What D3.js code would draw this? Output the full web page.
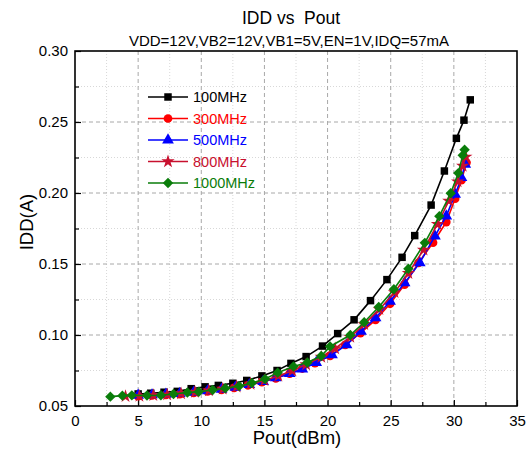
<!DOCTYPE html>
<html>
<head>
<meta charset="utf-8">
<script src="https://cdn.jsdelivr.net/npm/d3@7"></script>
<style>
  body { margin: 0; background: #fff; }
  svg { display: block; font-family: Arial, "Liberation Sans", sans-serif; }
</style>
</head>
<body>
<svg id="chart" width="527" height="450"></svg>
<script>
// ---- Data ----
const seriesNames = ["100MHz", "300MHz", "500MHz", "800MHz", "1000MHz"];
const seriesColors = ["#000000", "#ff0000", "#0000ff", "#c8102e", "#0a7d0a"];
const seriesShapes = ["square", "circle", "triangle", "star", "diamond"];

const x100 = [5.0, 6.0, 7.05, 8.1, 9.2, 10.3, 11.35, 12.5, 13.6, 14.8, 16.0, 17.1, 18.3, 19.6, 20.8, 22.1, 23.4, 24.7, 25.9, 26.9, 28.2, 29.25, 30.2, 30.8, 31.3];
const y100 = [0.0585, 0.059, 0.0597, 0.0603, 0.0622, 0.0635, 0.0645, 0.066, 0.068, 0.0712, 0.0750, 0.0800, 0.0848, 0.0922, 0.1010, 0.1107, 0.1242, 0.1390, 0.1547, 0.1700, 0.1915, 0.2155, 0.2385, 0.2513, 0.2656];

const x300 = [5.0, 6.1, 7.2, 8.3, 9.4, 10.5, 11.6, 12.6, 13.7, 14.8, 15.9, 17.0, 18.0, 19.0, 20.2, 21.4, 22.6, 23.8, 24.95, 26.1, 27.2, 28.35, 29.4, 30.1, 30.6, 31.0];
const y300 = [0.0570, 0.0574, 0.0578, 0.0584, 0.0593, 0.0603, 0.0614, 0.0628, 0.0646, 0.0668, 0.0695, 0.0728, 0.0764, 0.0802, 0.0853, 0.0931, 0.1013, 0.1107, 0.1220, 0.1355, 0.1508, 0.1650, 0.1795, 0.1960, 0.2090, 0.2214];

const x500 = [5.0, 6.1, 7.2, 8.3, 9.4, 10.5, 11.6, 12.7, 13.8, 14.9, 15.9, 17.0, 18.0, 19.1, 20.35, 21.5, 22.65, 23.8, 24.95, 26.1, 27.3, 28.5, 29.4, 30.1, 30.6, 30.9];
const y500 = [0.0575, 0.0578, 0.0582, 0.0588, 0.0596, 0.0606, 0.0617, 0.0632, 0.0650, 0.0672, 0.0698, 0.0728, 0.0759, 0.0806, 0.0860, 0.0931, 0.1025, 0.1120, 0.1237, 0.1367, 0.1508, 0.1696, 0.1837, 0.1990, 0.2108, 0.2202];

const x800 = [4.0, 5.1, 6.2, 7.3, 8.4, 9.5, 10.6, 11.7, 12.8, 13.9, 15.0, 16.1, 17.2, 18.3, 19.5, 20.6, 21.8, 22.9, 24.1, 25.3, 26.4, 27.6, 28.7, 29.6, 30.3, 30.7, 30.95];
const y800 = [0.0568, 0.0570, 0.0575, 0.0580, 0.0588, 0.0598, 0.0608, 0.0620, 0.0635, 0.0655, 0.0680, 0.0712, 0.0748, 0.0792, 0.0845, 0.0905, 0.0985, 0.1075, 0.1180, 0.1300, 0.1435, 0.1600, 0.1780, 0.1945, 0.2080, 0.2190, 0.2255];

const x1000 = [2.8, 3.75, 4.5, 5.7, 6.8, 7.8, 8.9, 9.8, 10.9, 11.9, 13.0, 14.0, 15.05, 16.05, 17.3, 18.4, 19.5, 20.2, 21.8, 22.9, 24.05, 25.25, 26.4, 27.7, 28.85, 29.75, 30.35, 30.7, 30.85];
const y1000 = [0.0566, 0.0573, 0.0575, 0.0574, 0.0576, 0.0585, 0.0595, 0.0600, 0.0613, 0.0625, 0.0640, 0.0662, 0.0690, 0.0735, 0.0778, 0.0806, 0.0852, 0.0919, 0.1000, 0.1090, 0.1197, 0.1322, 0.1467, 0.1649, 0.1837, 0.1998, 0.2140, 0.2265, 0.2305];

const seriesX = [x100, x300, x500, x800, x1000];
const seriesY = [y100, y300, y500, y800, y1000];

const xTicks = [0, 5, 10, 15, 20, 25, 30, 35];
const yTicks = [0.05, 0.10, 0.15, 0.20, 0.25, 0.30];

// ---- Layout ----
const svg = d3.select("#chart");
const L = 75, R = 517, T = 51, B = 406;
const x = d3.scaleLinear().domain([0, 35]).range([L, R]);
const y = d3.scaleLinear().domain([0.05, 0.30]).range([B, T]);

const xMinor = d3.range(0, 35.01, 2.5).filter(v => xTicks.indexOf(v) < 0);
const yMinor = d3.range(0.075, 0.30, 0.05);

// grid
const grid = svg.append("g");
xMinor.forEach(v => grid.append("line").attr("x1", x(v)).attr("x2", x(v)).attr("y1", T).attr("y2", B)
  .attr("stroke", "#d8d8d8").attr("stroke-width", 1).attr("stroke-dasharray", "1,2"));
yMinor.forEach(v => grid.append("line").attr("x1", L).attr("x2", R).attr("y1", y(v)).attr("y2", y(v))
  .attr("stroke", "#d8d8d8").attr("stroke-width", 1).attr("stroke-dasharray", "1,2"));
xTicks.slice(1, -1).forEach(v => grid.append("line").attr("x1", x(v)).attr("x2", x(v)).attr("y1", T).attr("y2", B)
  .attr("stroke", "#a8a8a8").attr("stroke-width", 1).attr("stroke-dasharray", "4,3"));
yTicks.slice(1, -1).forEach(v => grid.append("line").attr("x1", L).attr("x2", R).attr("y1", y(v)).attr("y2", y(v))
  .attr("stroke", "#a8a8a8").attr("stroke-width", 1).attr("stroke-dasharray", "4,3"));

// axes
const xAxis = d3.axisBottom(x).tickValues(xTicks).tickFormat(d3.format("d")).tickSizeInner(-6).tickSizeOuter(0).tickPadding(9);
const xAxisMinor = d3.axisBottom(x).tickValues(xMinor).tickFormat("").tickSizeInner(-4).tickSizeOuter(0);
const yAxis = d3.axisLeft(y).tickValues(yTicks).tickFormat(d3.format(".2f")).tickSizeInner(-6).tickSizeOuter(0).tickPadding(7);
const yAxisMinor = d3.axisLeft(y).tickValues(yMinor).tickFormat("").tickSizeInner(-4).tickSizeOuter(0);

function styleAxis(g) {
  g.select(".domain").remove();
  g.selectAll(".tick line").attr("stroke", "#000").attr("stroke-width", 1.2);
  g.selectAll(".tick text").attr("fill", "#000").style("font-size", "15px")
    .style("font-family", "Arial, 'Liberation Sans', sans-serif");
}
svg.append("g").attr("transform", `translate(0,${B})`).call(xAxis).call(styleAxis);
svg.append("g").attr("transform", `translate(0,${B})`).call(xAxisMinor).call(styleAxis);
svg.append("g").attr("transform", `translate(${L},0)`).call(yAxis).call(styleAxis);
svg.append("g").attr("transform", `translate(${L},0)`).call(yAxisMinor).call(styleAxis);

// frame
svg.append("rect").attr("x", L).attr("y", T).attr("width", R - L).attr("height", B - T)
  .attr("fill", "none").attr("stroke", "#000").attr("stroke-width", 1.6);

// symbols
function symbolFor(shape) {
  switch (shape) {
    case "square": return d3.symbol().type(d3.symbolSquare).size(56);
    case "circle": return d3.symbol().type(d3.symbolCircle).size(60);
    case "triangle": return d3.symbol().type(d3.symbolTriangle).size(60);
    case "star": return d3.symbol().type(d3.symbolStar).size(55);
    case "diamond": return d3.symbol().type(d3.symbolSquare).size(54);
  }
}
const symRot = shape => shape === "diamond" ? " rotate(45)" : "";

const line = d3.line().x(d => x(d[0])).y(d => y(d[1]));
const plot = svg.append("g");
seriesNames.forEach((name, i) => {
  const pts = seriesX[i].map((v, j) => [v, seriesY[i][j]]);
  const g = plot.append("g");
  g.append("path").datum(pts).attr("d", line).attr("fill", "none")
    .attr("stroke", seriesColors[i]).attr("stroke-width", 1.6);
  g.selectAll("path.m").data(pts).enter().append("path").attr("class", "m")
    .attr("transform", d => `translate(${x(d[0])},${y(d[1])})` + symRot(seriesShapes[i]))
    .attr("d", symbolFor(seriesShapes[i])).attr("fill", seriesColors[i]);
});

// legend
const lg = svg.append("g");
seriesNames.forEach((name, i) => {
  const yy = 97 + i * 21.5;
  lg.append("line").attr("x1", 148).attr("x2", 188).attr("y1", yy).attr("y2", yy)
    .attr("stroke", seriesColors[i]).attr("stroke-width", 1.6);
  lg.append("path").attr("transform", `translate(168,${yy})` + symRot(seriesShapes[i]))
    .attr("d", symbolFor(seriesShapes[i])).attr("fill", seriesColors[i]);
  lg.append("text").attr("x", 193).attr("y", yy + 5).text(name).attr("fill", seriesColors[i])
    .style("font-size", "14.5px");
});

// titles
svg.append("text").attr("x", 291).attr("y", 24).attr("text-anchor", "middle")
  .style("font-size", "17.5px").style("white-space", "pre").text("IDD vs  Pout");
svg.append("text").attr("x", 289).attr("y", 46).attr("text-anchor", "middle")
  .style("font-size", "15px").text("VDD=12V,VB2=12V,VB1=5V,EN=1V,IDQ=57mA");
svg.append("text").attr("x", 297).attr("y", 444).attr("text-anchor", "middle")
  .style("font-size", "18.5px").text("Pout(dBm)");
svg.append("text").attr("transform", `translate(33,222) rotate(-90)`).attr("text-anchor", "middle")
  .style("font-size", "18.5px").text("IDD(A)");
</script>
</body>
</html>
